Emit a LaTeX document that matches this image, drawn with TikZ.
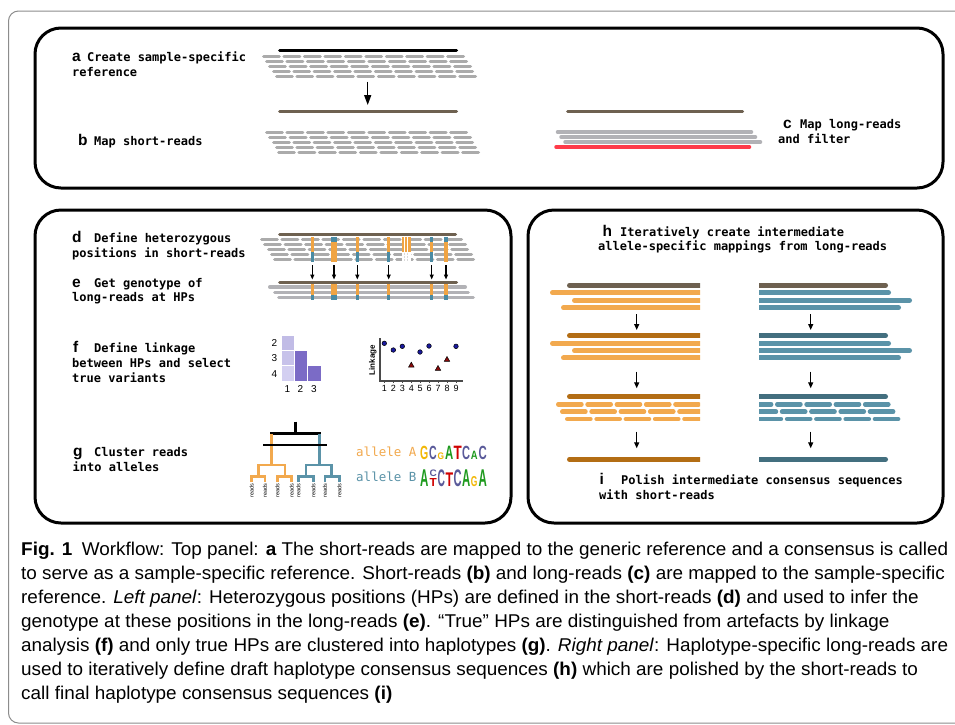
\documentclass[tikz,border=0pt]{standalone}
\usepackage{fontspec}
\setmainfont{Liberation Sans}
\newfontfamily\monofont{DejaVu Sans Mono}
\usepackage{graphicx}
\usetikzlibrary{arrows.meta}

% palette
\definecolor{readgrey}{HTML}{ABABAB}
\definecolor{lrgrey}{HTML}{B2B2B6}
\definecolor{refbrown}{HTML}{6E6150}
\definecolor{hpor}{HTML}{F0A443}
\definecolor{hpte}{HTML}{4A8BA4}
\definecolor{aor}{HTML}{F2A94E}
\definecolor{ate}{HTML}{5B93A8}
\definecolor{dkor}{HTML}{B36D14}
\definecolor{dkte}{HTML}{436F7F}
\definecolor{filtred}{HTML}{FF3B4A}
\definecolor{lgG}{HTML}{F2B705}
\definecolor{lgC}{HTML}{5A5A9A}
\definecolor{lgA}{HTML}{1E9A1E}
\definecolor{lgT}{HTML}{D00000}
\definecolor{hmA}{HTML}{C1BCE6}
\definecolor{hmB}{HTML}{C7C2EA}
\definecolor{hmC}{HTML}{D3CFF1}
\definecolor{hmD}{HTML}{7B6BC6}
\definecolor{ptblue}{HTML}{1A1A9E}
\definecolor{ptred}{HTML}{8A0A0A}
\definecolor{axisgrey}{HTML}{4A4A4A}
\definecolor{framegrey}{HTML}{8C8C8C}

% caption lines
\newsavebox\capbox
\newcommand\capfont{\fontsize{18.5}{24}\selectfont}
\newcommand\capI{\textbf{Fig. 1}\enspace Workflow: Top panel: \textbf{a} The short-reads are mapped to the generic reference and a consensus is called}
\newcommand\capII{to serve as a sample-specific reference. Short-reads \textbf{(b)} and long-reads \textbf{(c)} are mapped to the sample-specific}
\newcommand\capIII{reference. \textit{Left panel}: Heterozygous positions (HPs) are defined in the short-reads \textbf{(d)} and used to infer the}
\newcommand\capIV{genotype at these positions in the long-reads \textbf{(e)}. “True” HPs are distinguished from artefacts by linkage}
\newcommand\capV{analysis \textbf{(f)} and only true HPs are clustered into haplotypes \textbf{(g)}. \textit{Right panel}: Haplotype-specific long-reads are}
\newcommand\capVI{used to iteratively define draft haplotype consensus sequences \textbf{(h)} which are polished by the short-reads to}
\newcommand\capVII{call final haplotype consensus sequences \textbf{(i)}}

% a row of equal read segments between two x positions
% #1 y, #2 x start, #3 x end, #4 count, #5 gap, #6 half line width, #7 style
\newcommand\srow[7]{%
  \pgfmathsetmacro\srP{((#3)-(#2)+(#5))/(#4)}%
  \pgfmathsetmacro\srL{\srP-(#5)}%
  \foreach \k in {1,...,#4}{%
    \draw[#7] ({#2+(\k-1)*\srP+(#6)},#1) -- ({#2+(\k-1)*\srP+\srL-(#6)},#1);}}
% a row of segments with given period
% #1 y, #2 first x, #3 count, #4 period, #5 length, #6 half line width, #7 style
\newcommand\segrun[7]{%
  \foreach \k in {1,...,#3}{%
    \draw[#7] ({#2+(\k-1)*(#4)+(#6)},#1) -- ({#2+(\k-1)*(#4)+(#5)-(#6)},#1);}}
% heterozygous position on five short-read rows
\newcommand\hpcol[7]{%
  \foreach \hpc [count=\hpr from 0] in {#3,#4,#5,#6,#7}{%
    \fill[\hpc] ({#1-(#2)/2},{236.5+5*\hpr}) rectangle ({#1+(#2)/2},{241.5+5*\hpr});}}
% heterozygous position on three long-read rows
\newcommand\lrcol[5]{%
  \foreach \hpc [count=\hpr from 0] in {#3,#4,#5}{%
    \fill[\hpc] ({#1-(#2)/2},{284.3+5.35*\hpr}) rectangle ({#1+(#2)/2},{289.65+5.35*\hpr});}}
% one letter of a sequence logo: name, x, baseline, width, height, colour, letter
\newcommand\logoch[7]{%
  \node[anchor=south west, inner sep=0pt, text=#6] (#1) at (#2,#3)
    {\resizebox{#4pt}{#5pt}{\bfseries #7}};}

\begin{document}
\sbox\capbox{\capfont\capI}%
\pgfmathsetmacro\capsx{927/\the\wd\capbox}%
\begin{tikzpicture}[x=1pt, y=-1pt,
  panel/.style={draw=black, line width=3pt, rounded corners=26pt},
  lab/.style={anchor=base west, inner sep=0pt, font=\fontsize{15.5}{16}\selectfont\bfseries},
  mtxt/.style={anchor=base west, inner sep=0pt, font=\monofont\bfseries\fontsize{12}{14}\selectfont},
  alltxt/.style={anchor=base west, inner sep=0pt, font=\monofont\fontsize{12.5}{14}\selectfont},
  captxt/.style={anchor=base west, inner sep=0pt, font=\capfont},
  srd/.style={readgrey, line width=3pt, line cap=round},
  lrd/.style={lrgrey, line width=3.5pt, line cap=round},
  refl/.style={refbrown, line width=3pt, line cap=round},
  bar/.style={line width=5pt, line cap=round},
  sseg/.style={line width=4.5pt, line cap=round},
  sarr/.style={-{Triangle[length=5pt,width=4pt]}, line width=1.1pt},
  barr/.style={-{Triangle[length=6pt,width=5pt]}, line width=1.2pt},
  dend/.style={line width=2.6pt},
  hmlab/.style={inner sep=0pt, font=\fontsize{10}{10}\selectfont},
  ticklab/.style={inner sep=0pt, font=\fontsize{9}{9}\selectfont},
  rdlab/.style={rotate=90, anchor=east, inner sep=0pt, font=\fontsize{5.5}{6}\selectfont}]

\useasboundingbox (0,0) rectangle (955,724);
\fill[white] (0,0) rectangle (955,724);

% outer frame
\begin{scope}
  \clip (0,0) rectangle (955,724);
  \draw[framegrey, line width=1pt, rounded corners=10pt] (8.5,11) rectangle (990,723);
\end{scope}

% ---------- three panels ----------
\draw[panel] (35,28) rectangle (943,188);
\draw[panel] (35,210) rectangle (511,523);
\draw[panel] (528,210) rectangle (943,523);

% ---------- top panel ----------
\node[lab] (la) at (72,61) {a};
\node[mtxt] (ta1) at (87,61) {Create sample-specific};
\node[mtxt] (ta2) at (72,76) {reference};
\node[lab] (lb) at (78,145) {b};
\node[mtxt] (tb) at (94,145) {Map short-reads};
\node[lab] (lc) at (783,128) {c};
\node[mtxt] (tc1) at (800,128) {Map long-reads};
\node[mtxt] (tc2) at (778,143) {and filter};

\draw[black, line width=3pt, line cap=round] (279.5,50) -- (456.5,50);
\srow{56}{262}{465}{10}{1.6}{1.5}{srd}
\srow{61}{265}{468}{10}{1.6}{1.5}{srd}
\srow{66}{268}{472}{10}{1.6}{1.5}{srd}
\srow{71}{272}{474}{10}{1.6}{1.5}{srd}
\srow{76}{275}{477}{10}{1.6}{1.5}{srd}

\coordinate (ab1) at (367.7,81.7);
\coordinate (ab2) at (367.7,105);
\draw[-{Triangle[length=10pt,width=7pt]}, line width=1.5pt] (ab1) -- (ab2);

\draw[refl] (279.5,111) -- (456.5,111);
\srow{132}{265}{468}{10}{1.6}{1.5}{srd}
\srow{137}{268}{472}{10}{1.6}{1.5}{srd}
\srow{142}{272}{474}{10}{1.6}{1.5}{srd}
\srow{147}{275}{477}{10}{1.6}{1.5}{srd}
\srow{152}{277}{480}{10}{1.6}{1.5}{srd}

\draw[refl] (567.5,111) -- (742.5,111);
\draw[lrd] (557.5,132) -- (751.5,132);
\draw[lrd] (561,137) -- (755.5,137);
\draw[lrd] (565,142) -- (760.5,142);
\draw[filtred, line width=3.5pt, line cap=round] (556,147) -- (749.5,147);

% ---------- left panel: d, e ----------
\node[lab] (ld) at (72,242) {d};
\node[mtxt] (td1) at (94,242) {Define heterozygous};
\node[mtxt] (td2) at (72,257.5) {positions in short-reads};
\node[lab] (le) at (72,287) {e};
\node[mtxt] (te1) at (94,287) {Get genotype of};
\node[mtxt] (te2) at (72,301.5) {long-reads at HPs};

\draw[refl] (279.5,234) -- (455.5,234);
\srow{239}{260}{463}{10}{1.6}{1.5}{srd}
\srow{244}{263}{467}{10}{1.6}{1.5}{srd}
\srow{249}{267}{469}{10}{1.6}{1.5}{srd}
\srow{254}{270}{473}{10}{1.6}{1.5}{srd}
\srow{259}{273}{475}{10}{1.6}{1.5}{srd}

\hpcol{312.3}{3.3}{hpor}{hpor}{hpor}{hpte}{hpte}
\hpcol{334}{5.7}{hpte}{hpor}{hpor}{hpor}{hpor}
\hpcol{357.3}{3.3}{hpor}{hpor}{hpor}{hpte}{hpte}
\hpcol{388.7}{3.3}{hpor}{hpor}{hpor}{hpte}{hpte}
\hpcol{431.7}{3.3}{hpte}{hpor}{hpor}{hpte}{hpte}
\hpcol{446}{3.3}{hpte}{hpor}{hpor}{hpor}{hpor}
% artefact column
\fill[white] (401.7,251.5) rectangle (410.7,261.5);
\fill[hpor] (401.7,236.5) rectangle (410.7,251.5);
\draw[white, line width=0.7pt] (404.7,236.5) -- (404.7,251.5) (407.7,236.5) -- (407.7,251.5);
\draw[readgrey!45, line width=0.6pt, dash pattern=on 2pt off 1pt]
  (404.7,252.5) -- (404.7,261) (407.7,252.5) -- (407.7,261);

\foreach \ax [count=\ai] in {312.3,334,357.3,388.7,431.7,446}{
  \coordinate (hs\ai) at (\ax,265);
  \coordinate (he\ai) at (\ax,279.5);
  \draw[sarr] (hs\ai) -- (he\ai);
}

\draw[refl] (279.5,282.3) -- (456.5,282.3);
\draw[lrd] (269.75,287) -- (465.25,287);
\draw[lrd] (274.75,292.35) -- (468.25,292.35);
\draw[lrd] (278.75,297.7) -- (473.25,297.7);
\lrcol{312.3}{3.3}{hpor}{hpor}{hpte}
\lrcol{334}{5.7}{hpor}{hpor}{hpte}
\lrcol{357.3}{3.3}{hpor}{hpor}{hpte}
\lrcol{388.7}{3.3}{hpor}{hpor}{hpte}
\lrcol{431.7}{3.3}{hpor}{hpor}{hpte}
\lrcol{446}{3.3}{hpor}{hpor}{hpte}

% ---------- left panel: f ----------
\node[lab] (lf) at (73,352.7) {f};
\node[mtxt] (tf1) at (94,352.7) {Define linkage};
\node[mtxt] (tf2) at (72,367.7) {between HPs and select};
\node[mtxt] (tf3) at (72,382.3) {true variants};

\begin{scope}[draw=white, line width=0.8pt]
  \filldraw[fill=hmA] (281,335) rectangle (294,350);
  \filldraw[fill=hmB] (281,350) rectangle (294,365.5);
  \filldraw[fill=hmC] (281,365.5) rectangle (294,381);
  \filldraw[fill=hmD] (294,350) rectangle (307.5,381);
  \filldraw[fill=hmD] (307.5,365.5) rectangle (321,381);
\end{scope}
\node[hmlab] (hr2) at (274.3,342.7) {2};
\node[hmlab] (hr3) at (274.3,358.3) {3};
\node[hmlab] (hr4) at (274.3,374) {4};
\node[hmlab] (hc1) at (287.3,389) {1};
\node[hmlab] (hc2) at (300.3,389) {2};
\node[hmlab] (hc3) at (314,389) {3};

\draw[axisgrey, line width=1.6pt] (380,338.3) -- (380,380.7) -- (463.3,380.7);
\foreach \tx [count=\ti] in {384.3,393.3,402.3,411.3,420,429,438,447,456}{
  \draw[axisgrey, line width=0.8pt] (\tx,380.7) -- (\tx,383);
  \node[ticklab] (tk\ti) at (\tx,388.5) {\ti};
}
\node[rotate=90, inner sep=0pt, font=\fontsize{8}{8}\selectfont\bfseries] (ylab) at (372.7,360) {Linkage};
\foreach \px/\py in {384.3/343.3, 393.3/350, 402.3/346.3, 420/352, 429/346, 456/346.3}{
  \filldraw[fill=ptblue, draw=black, line width=0.5pt] (\px,\py) circle (2.3);
}
\foreach \px/\py in {411.3/365, 438/368.3, 447/359.3}{
  \filldraw[fill=ptred, draw=black, line width=0.5pt]
    ({\px-2.7},{\py+2}) -- (\px,{\py-2.8}) -- ({\px+2.7},{\py+2}) -- cycle;
}

% ---------- left panel: g ----------
\node[lab] (lg) at (73,456) {g};
\node[mtxt] (tg1) at (94,456.5) {Cluster reads};
\node[mtxt] (tg2) at (72.5,471) {into alleles};

\draw[black, line width=3pt] (295,421.5) -- (295,433);
\draw[black, line width=3pt] (270.3,433) -- (320.8,433);
\draw[aor, dend] (271.7,434) -- (271.7,465);
\draw[aor, dend] (258.3,476.7) -- (258.3,465) -- (285,465) -- (285,476.7);
\draw[aor, dend] (251.7,482) -- (251.7,476.7) -- (265,476.7) -- (265,482);
\draw[aor, dend] (277.3,482) -- (277.3,476.7) -- (291.7,476.7) -- (291.7,482);
\draw[ate, dend] (319.3,434) -- (319.3,465);
\draw[ate, dend] (306,476.7) -- (306,465) -- (331.7,465) -- (331.7,476.7);
\draw[ate, dend] (298.3,482) -- (298.3,476.7) -- (313.3,476.7) -- (313.3,482);
\draw[ate, dend] (325,482) -- (325,476.7) -- (339.3,476.7) -- (339.3,482);
\draw[black, line width=1.1pt] (263.3,445) -- (327.3,445);
\foreach \lx [count=\li] in {251.7,265,277.3,291.7,298.3,313.3,325,339.3}{
  \node[rdlab] (rd\li) at (\lx,483.5) {reads};
}

\node[alltxt, text=aor] (alA) at (356,456.7) {allele A};
\node[alltxt, text=ate] (alB) at (356,481.7) {allele B};
% sequence logo, allele A
\logoch{sa1}{420}{460}{8.2}{13.3}{lgG}{G}
\logoch{sa2}{429}{460}{7.6}{13.3}{lgC}{C}
\logoch{sa3}{437.5}{460}{6.5}{6.7}{lgG}{G}
\logoch{sa4}{445}{460}{8.2}{13.3}{lgA}{A}
\logoch{sa5}{453.4}{460}{8.2}{13.3}{lgT}{T}
\logoch{sa6}{461.8}{460}{8}{13.3}{lgC}{C}
\logoch{sa7}{470.6}{460}{6.8}{8.3}{lgA}{A}
\logoch{sa8}{478.3}{460}{8.2}{13.3}{lgC}{C}
% sequence logo, allele B
\logoch{sb1}{420}{486.7}{8.3}{16.7}{lgA}{A}
\logoch{sb2}{429.3}{476.6}{7.2}{6.6}{lgC}{C}
\logoch{sb3}{429.3}{486.7}{7.2}{8}{lgT}{T}
\logoch{sb4}{437.4}{486.7}{7.4}{16.7}{lgC}{C}
\logoch{sb5}{445.5}{486.7}{7.6}{13.6}{lgT}{T}
\logoch{sb6}{453.4}{486.7}{8}{16.7}{lgC}{C}
\logoch{sb7}{461.8}{486.7}{8.2}{16.7}{lgA}{A}
\logoch{sb8}{470.7}{486.7}{6.6}{10}{lgG}{G}
\logoch{sb9}{478.3}{486.7}{8.3}{16.7}{lgA}{A}

% ---------- right panel ----------
\node[lab] (lh) at (602.5,236.5) {h};
\node[mtxt] (th1) at (620,236.5) {Iteratively create intermediate};
\node[mtxt] (th2) at (598,250.7) {allele-specific mappings from long-reads};

% allele A stack, cut at the right
\begin{scope}
  \clip (540,270) rectangle (700,470);
  \draw[bar, refbrown] (569.5,285.3) -- (720,285.3);
  \draw[bar, aor] (552.5,292.8) -- (720,292.8);
  \draw[bar, aor] (574.5,300.3) -- (720,300.3);
  \draw[bar, aor] (563.5,307.6) -- (720,307.6);

  \draw[bar, dkor] (569.5,335.7) -- (720,335.7);
  \draw[bar, aor] (552.5,343.3) -- (720,343.3);
  \draw[bar, aor] (574.5,350.7) -- (720,350.7);
  \draw[bar, aor] (563.5,357.9) -- (720,357.9);

  \draw[bar, dkor] (569.5,396.7) -- (720,396.7);
  \segrun{404.3}{556}{6}{29.3}{27.7}{2.25}{sseg, aor}
  \segrun{411.7}{560}{6}{29.3}{27.7}{2.25}{sseg, aor}
  \segrun{419}{565}{6}{29.3}{27.7}{2.25}{sseg, aor}

  \draw[bar, dkor] (569.5,459.3) -- (720,459.3);
\end{scope}

% allele B stack, cut at the left
\begin{scope}
  \clip (759,270) rectangle (930,470);
  \draw[bar, refbrown] (740,285.3) -- (885.5,285.3);
  \draw[bar, ate] (740,292.8) -- (888.5,292.8);
  \draw[bar, ate] (740,300.3) -- (909.5,300.3);
  \draw[bar, ate] (740,307.6) -- (898.5,307.6);

  \draw[bar, dkte] (740,335.7) -- (885.5,335.7);
  \draw[bar, ate] (740,343.3) -- (888.5,343.3);
  \draw[bar, ate] (740,350.7) -- (909.5,350.7);
  \draw[bar, ate] (740,357.9) -- (898.5,357.9);

  \draw[bar, dkte] (740,396.7) -- (885.5,396.7);
  \segrun{404.3}{745.7}{5}{29.3}{27.7}{2.25}{sseg, ate}
  \segrun{411.7}{750.5}{5}{29.3}{27.7}{2.25}{sseg, ate}
  \segrun{419}{755.5}{5}{29.3}{27.7}{2.25}{sseg, ate}

  \draw[bar, dkte] (740,459.3) -- (885.5,459.3);
\end{scope}

% iteration arrows
\foreach \ys/\ye [count=\si] in {314.3/330, 371.7/388.3, 431.7/448.3}{
  \coordinate (ra\si) at (636.7,\ys);
  \coordinate (rb\si) at (636.7,\ye);
  \coordinate (rc\si) at (810.7,\ys);
  \coordinate (rd\si) at (810.7,\ye);
  \draw[barr] (ra\si) -- (rb\si);
  \draw[barr] (rc\si) -- (rd\si);
}

\node[lab] (li) at (599.5,484.5) {i};
\node[mtxt] (ti1) at (621,484.5) {Polish intermediate consensus sequences};
\node[mtxt] (ti2) at (599,499.3) {with short-reads};

% ---------- caption ----------
\node[captxt] (cap1) at (21,555) {\scalebox{\capsx}[1]{\capI}};
\node[captxt] (cap2) at (21,579) {\scalebox{\capsx}[1]{\capII}};
\node[captxt] (cap3) at (21,603) {\scalebox{\capsx}[1]{\capIII}};
\node[captxt] (cap4) at (21,627) {\scalebox{\capsx}[1]{\capIV}};
\node[captxt] (cap5) at (21,651) {\scalebox{\capsx}[1]{\capV}};
\node[captxt] (cap6) at (21,675) {\scalebox{\capsx}[1]{\capVI}};
\node[captxt] (cap7) at (21,699) {\scalebox{\capsx}[1]{\capVII}};
\end{tikzpicture}
\end{document}
